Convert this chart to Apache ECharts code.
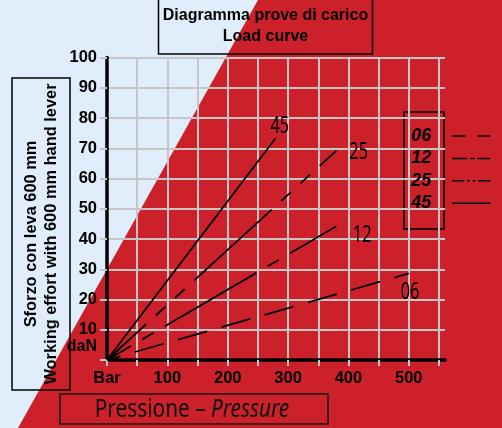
<!DOCTYPE html>
<html>
<head>
<meta charset="utf-8">
<script src="https://cdn.jsdelivr.net/npm/echarts@6/dist/echarts.min.js"></script>
<style>
    html, body {margin: 0; padding: 0; background: #dfeefa;}
    #load-curve {width: 502px; height: 428px;}
</style>
</head>
<body>
<div id="load-curve"></div>
<script>
    // curves: pressure (Bar) -> working effort (daN)
    var curveNames = ['06', '12', '25', '45'];
    var pressure06 = [0, 500];
    var effort06 = [0, 28.6];
    var pressure12 = [0, 380];
    var effort12 = [0, 44.2];
    var pressure25 = [0, 380];
    var effort25 = [0, 69.2];
    var pressure45 = [0, 279];
    var effort45 = [0, 73.2];

    // tick labels
    var pressureLabels = {0: 'Bar', 100: '100', 200: '200', 300: '300', 400: '400', 500: '500'};
    var effortLabels = {0: 'daN', 10: '10', 20: '20', 30: '30', 40: '40', 50: '50', 60: '60', 70: '70', 80: '80', 90: '90', 100: '100'};

    var pressureOf = {'06': pressure06, '12': pressure12, '25': pressure25, '45': pressure45};
    var effortOf = {'06': effort06, '12': effort12, '25': effort25, '45': effort45};

    // line look in the chart and in the key
    var chartDash = {
        '06': {type: [30, 15], dashOffset: 16},
        '12': {type: [106, 13, 13, 13], dashOffset: 78},
        '25': {type: [105, 13, 13, 13, 13, 13], dashOffset: 52},
        '45': {type: 'solid', dashOffset: 0}
    };
    var keyDash = {'06': [13, 12], '12': [15, 3, 4, 3], '25': [12, 3, 2.5, 3, 2.5, 3], '45': 'solid'};
    // where the curve name sits relative to the curve end (px)
    var labelOffset = {'06': [-8, 19], '12': [16.5, 9], '25': [13, 1.5], '45': [-5, -12]};

    var handFont = 'normal 24px "Noto Sans", "DejaVu Sans Condensed", sans-serif';
    var boldFont = '"Liberation Sans", Arial, sans-serif';

    var series = curveNames.map(function (name) {
        var data = pressureOf[name].map(function (p, i) {
            return [p, effortOf[name][i]];
        });
        return {
            name: name,
            type: 'line',
            data: data,
            symbol: 'none',
            silent: true,
            lineStyle: {color: '#000', width: 1.8, type: chartDash[name].type, dashOffset: chartDash[name].dashOffset},
            itemStyle: {color: '#000'}
        };
    });

    var graphics = [
        {
            type: 'polygon',
            id: 'bg-red',
            z: -100,
            silent: true,
            shape: {points: [[258, 0], [502, 0], [502, 428], [18, 428]]},
            style: {fill: '#cc212a'}
        },
        {
            type: 'rect',
            id: 'y-name-box',
            silent: true,
            shape: {x: 12, y: 78, width: 58, height: 312},
            style: {fill: 'none', stroke: '#000', lineWidth: 1.5}
        },
        {
            type: 'text',
            id: 'y-name',
            silent: true,
            x: 41,
            y: 234,
            rotation: Math.PI / 2,
            style: {
                text: 'Sforzo con leva 600 mm\nWorking effort with 600 mm hand lever',
                font: 'bold 16.4px ' + boldFont,
                lineHeight: 20,
                align: 'center',
                verticalAlign: 'middle',
                fill: '#000'
            }
        },
        {
            type: 'rect',
            id: 'key-box',
            silent: true,
            shape: {x: 404, y: 112, width: 40, height: 117},
            style: {fill: 'none', stroke: '#000', lineWidth: 1.5}
        },
        {
            type: 'rect',
            id: 'x-name-box',
            silent: true,
            shape: {x: 60, y: 394, width: 268, height: 30},
            style: {fill: 'none', stroke: '#1a1a1a', lineWidth: 1.5}
        },
        {
            type: 'text',
            id: 'x-name',
            silent: true,
            x: 192,
            y: 410,
            scaleX: 0.8,
            style: {
                text: 'Pressione – {i|Pressure}',
                font: 'normal 26px "Noto Sans", sans-serif',
                align: 'center',
                verticalAlign: 'middle',
                fill: '#111',
                rich: {i: {font: 'italic normal 26px "Noto Sans", sans-serif', fill: '#111'}}
            }
        }
    ];

    var myChart = echarts.init(document.getElementById('load-curve'));
    var option = {
        backgroundColor: '#dfeefa',
        animation: false,
        title: {
            text: 'Diagramma prove di carico\nLoad curve',
            left: 263.5,
            top: -2,
            textAlign: 'center',
            padding: [7, 2, 7, 2],
            borderColor: '#000',
            borderWidth: 1.5,
            textStyle: {fontFamily: boldFont, fontWeight: 'bold', fontSize: 16, lineHeight: 21, color: '#000', width: 211}
        },
        legend: {
            orient: 'vertical',
            right: 11,
            top: 126,
            padding: 0,
            align: 'right',
            itemWidth: 38,
            itemHeight: 14,
            itemGap: 2.4,
            selectedMode: false,
            itemStyle: {color: 'transparent', borderWidth: 0},
            textStyle: {fontFamily: boldFont, fontWeight: 'bold', fontStyle: 'italic', fontSize: 18, lineHeight: 18, color: '#000', padding: [2, 16, 0, 0]},
            data: curveNames.map(function (name) {
                return {name: name, lineStyle: {color: '#000', width: 1.5, type: keyDash[name], dashOffset: 0}};
            })
        },
        grid: {left: 107, right: 57, top: 57.5, bottom: 68, containLabel: false},
        xAxis: {
            type: 'value',
            min: 0,
            max: 560,
            interval: 50,
            axisLine: {show: true, onZero: false, lineStyle: {color: '#000', width: 3.5}},
            axisTick: {show: true, length: 6, lineStyle: {color: '#c6c6c6', width: 2}},
            splitLine: {show: true, showMaxLine: false, lineStyle: {color: '#c6c6c6', width: 2}},
            axisLabel: {
                margin: 10,
                showMaxLabel: false,
                fontFamily: boldFont, fontWeight: 'bold', fontSize: 16.5, color: '#000',
                formatter: function (v) {
                    return pressureLabels[v] || '';
                }
            }
        },
        yAxis: {
            type: 'value',
            min: 0,
            max: 100,
            interval: 10,
            axisLine: {show: true, onZero: false, lineStyle: {color: '#000', width: 3.5}},
            axisTick: {show: true, length: 7, lineStyle: {color: '#c6c6c6', width: 2}},
            splitLine: {show: true, lineStyle: {color: '#c6c6c6', width: 2}},
            axisLabel: {
                margin: 10,
                fontFamily: boldFont, fontWeight: 'bold', fontSize: 16.5, color: '#000',
                formatter: function (v) {
                    return v === 0 ? '{u|' + effortLabels[v] + '}' : (effortLabels[v] || '');
                },
                rich: {u: {fontFamily: boldFont, fontWeight: 'bold', fontSize: 16, color: '#000', padding: [0, 0, 26, 0]}}
            }
        },
        graphic: graphics,
        series: series
    };
    myChart.setOption(option);

    // curve names written next to the curve ends, placed through the chart's own scales
    var curveLabels = curveNames.map(function (name, i) {
        var p = pressureOf[name], e = effortOf[name];
        var end = myChart.convertToPixel({seriesIndex: i}, [p[p.length - 1], e[e.length - 1]]);
        return {
            type: 'text',
            id: 'curve-name-' + name,
            silent: true,
            z: 10,
            x: end[0] + labelOffset[name][0],
            y: end[1] + labelOffset[name][1],
            scaleX: 0.68,
            style: {text: name, font: handFont, align: 'left', verticalAlign: 'middle', fill: '#000'}
        };
    });
    myChart.setOption({graphic: graphics.concat(curveLabels)});
</script>
</body>
</html>
